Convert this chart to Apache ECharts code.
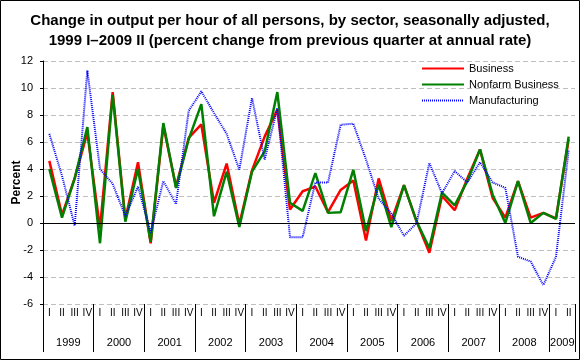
<!DOCTYPE html>
<html>
<head>
<meta charset="utf-8">
<script src="https://cdn.jsdelivr.net/npm/echarts@6/dist/echarts.min.js"></script>
<style>
html,body{margin:0;padding:0;background:#fff;}
#chart{width:580px;height:360px;}
</style>
</head>
<body>
<div id="chart"></div>
<script>
var years = ['1999','2000','2001','2002','2003','2004','2005','2006','2007','2008','2009'];
var quarterNames = ['I','II','III','IV'];
var nQuarters = 42;

var business = [4.6, 0.6, 3.3, 6.7, -0.4, 9.7, 0.3, 4.5, -1.5, 7.2, 2.7, 6.3,
                7.3, 1.5, 4.4, -0.1, 3.9, 6.4, 8.4, 1.0, 2.35, 2.7, 0.8, 2.45,
                3.15, -1.3, 3.3, 0.15, 2.8, 0.1, -2.2, 2.0, 0.95, 3.3, 5.45, 1.85,
                0.4, 3.1, 0.4, 0.75, 0.35, 6.2];
var nonfarm = [4.0, 0.4, 3.3, 7.1, -1.5, 9.5, 0.1, 4.0, -1.4, 7.4, 2.6, 6.2,
               8.8, 0.5, 3.8, -0.3, 3.8, 5.3, 9.7, 1.5, 0.9, 3.7, 0.75, 0.8,
               3.95, -0.6, 2.85, -0.3, 2.8, 0.1, -1.85, 2.25, 1.3, 3.1, 5.45, 2.1,
               0.0, 3.1, 0.0, 0.75, 0.3, 6.4];
var manufacturing = [6.6, 3.5, -0.2, 11.3, 4.0, 2.9, 0.5, 2.7, -0.7, 3.1, 1.4, 8.3,
                     9.75, 8.15, 6.6, 3.95, 9.26, 4.7, 8.5, -1.05, -1.05, 3.0, 3.0, 7.28,
                     7.36, 4.7, 1.8, 0.7, -0.95, 0.0, 4.45, 2.2, 3.85, 3.0, 4.5, 3.0,
                     2.6, -2.5, -2.85, -4.6, -2.5, 5.4];

var quarterCats = [];
for (var i = 0; i < nQuarters; i++) {
  quarterCats.push(quarterNames[i % 4]);
}
var yearBoundaries = [];
for (var b = 0; b <= nQuarters; b++) {
  var yi = Math.floor(b / 4);
  yearBoundaries.push(years[Math.min(yi, years.length - 1)]);
}
function yearLabelShown(idx) {
  var start = Math.floor(idx / 4) * 4;
  var end = Math.min(start + 4, nQuarters);
  return idx === (start + end) / 2;
}
function yearTickShown(idx) {
  return idx % 4 === 0 || idx === nQuarters;
}

var FONT = 'Liberation Sans, Arial, sans-serif';
var chart = echarts.init(document.getElementById('chart'));
chart.setOption({
  animation: false,
  backgroundColor: '#fff',
  title: {
    text: 'Change in output per hour of all persons, by sector, seasonally adjusted,\n1999 I\u20132009 II (percent change from previous quarter at annual rate)',
    left: 'center',
    top: 6,
    textStyle: {fontFamily: FONT, fontSize: 15, fontWeight: 'bold', color: '#000', lineHeight: 20}
  },
  legend: {
    orient: 'vertical',
    left: 421,
    top: 63,
    itemWidth: 42,
    itemHeight: 12,
    itemGap: 5,
    padding: 0,
    itemStyle: {opacity: 0},
    textStyle: {fontFamily: FONT, fontSize: 11, color: '#000'},
    data: ['Business', 'Nonfarm Business', 'Manufacturing']
  },
  grid: {left: 43, right: 5, top: 61, bottom: 56, containLabel: false, outerBoundsMode: 'none'},
  xAxis: [
    {
      type: 'category',
      data: quarterCats,
      boundaryGap: true,
      position: 'bottom',
      axisLine: {show: false},
      axisTick: {show: false},
      splitLine: {show: false},
      axisLabel: {interval: 0, margin: 4, fontFamily: FONT, fontSize: 10, color: '#000'}
    },
    {
      type: 'category',
      data: yearBoundaries,
      boundaryGap: false,
      position: 'bottom',
      axisLine: {show: false},
      axisTick: {show: true, interval: function (idx) { return yearTickShown(idx); }, length: 48, lineStyle: {color: '#000', width: 1}},
      splitLine: {show: false},
      axisLabel: {interval: function (idx) { return yearLabelShown(idx); }, margin: 33, fontFamily: FONT, fontSize: 11, color: '#000'}
    }
  ],
  yAxis: {
    type: 'value',
    min: -6,
    max: 12,
    interval: 2,
    name: 'Percent',
    nameLocation: 'middle',
    nameGap: 20,
    nameMoveOverlap: false,
    nameTextStyle: {fontFamily: FONT, fontSize: 12, fontWeight: 'bold', color: '#000'},
    axisLine: {show: true, lineStyle: {color: '#000', width: 1}},
    axisTick: {show: true, length: 3, lineStyle: {color: '#000'}},
    axisLabel: {margin: 10, fontFamily: FONT, fontSize: 11, color: '#000'},
    splitLine: {show: true, lineStyle: {color: '#c0c0c0', type: [5, 3], width: 1}}
  },
  series: [
    {
      name: 'Business', type: 'line', data: business, symbol: 'none',
      color: '#ff0000',
      lineStyle: {color: '#ff0000', width: 2.5},
      markLine: {
        symbol: 'none', silent: true, label: {show: false},
        lineStyle: {color: '#000', type: 'solid', width: 1},
        data: [{yAxis: 0}]
      }
    },
    {
      name: 'Nonfarm Business', type: 'line', data: nonfarm, symbol: 'none',
      color: '#008000',
      lineStyle: {color: '#008000', width: 2.5}
    },
    {
      name: 'Manufacturing', type: 'line', data: manufacturing, symbol: 'none',
      color: '#0000ff',
      lineStyle: {color: '#0000ff', width: 2, type: [1, 1]}
    }
  ],
  graphic: [
    {type: 'rect', silent: true, z: 100,
     shape: {x: 0.5, y: 0.5, width: 579, height: 359},
     style: {fill: 'none', stroke: '#000', lineWidth: 1}}
  ]
});
</script>
</body>
</html>
